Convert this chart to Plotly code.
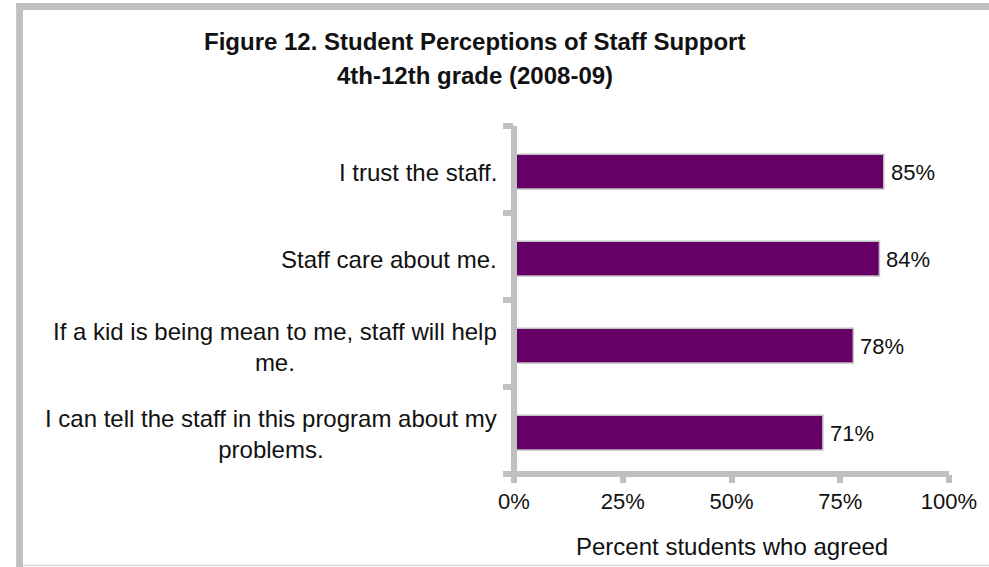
import plotly.graph_objects as go

# Survey items (top to bottom) and share of students who agreed (%)
items = [
    "I trust the staff.",
    "Staff care about me.",
    "If a kid is being mean to me, staff will help<br>me.",
    "I can tell the staff in this program about my<br>problems.",
]
agreed = [85, 84, 78, 71]
x_ticks = [0, 25, 50, 75, 100]
x_tick_text = ["0%", "25%", "50%", "75%", "100%"]

title_line1 = "Figure 12. Student Perceptions of Staff Support"
title_line2 = "4th-12th grade (2008-09)"
x_title = "Percent students who agreed"

# Canvas and plot-area geometry (pixels)
W, H = 989, 567
L, R, T, B = 514, 32, 126, 93
PW, PH = W - L - R, H - T - B

FONT = "Arial, 'Liberation Sans', sans-serif"
AXIS_GREY = "#c0c0c0"
BAR_COLOR = "#660066"
TEXT = "#111111"
AXIS_W = 6


def px_x(px):
    return (px - L) / PW


def px_y(py):
    return (H - B - py) / PH


n = len(items)
pos = list(range(n - 1, -1, -1))  # first item drawn at the top

fig = go.Figure()
fig.add_trace(go.Bar(
    x=agreed,
    y=pos,
    orientation="h",
    width=0.4,
    offset=-0.225,
    marker=dict(color=BAR_COLOR, line=dict(color=AXIS_GREY, width=1.5)),
    hoverinfo="skip",
))

annotations = []
# Item labels, centred lines, right-aligned against the axis
for label, p in zip(items, pos):
    annotations.append(dict(
        x=0, xref="paper", y=p, yref="y",
        xanchor="right", yanchor="middle", xshift=-15, yshift=-3,
        text=label, align="center", showarrow=False,
        font=dict(family=FONT, size=24, color=TEXT),
    ))
# Value labels at the end of each bar
for v, p in zip(agreed, pos):
    annotations.append(dict(
        x=v, xref="x", y=p, yref="y",
        xanchor="left", yanchor="middle", xshift=5, yshift=-3,
        text=f"{v}%", showarrow=False,
        font=dict(family=FONT, size=22, color=TEXT),
    ))
# Two-line chart title
annotations.append(dict(
    x=px_x(474), xref="paper", y=px_y(42), yref="paper",
    xanchor="center", yanchor="middle", text=f"<b>{title_line1}</b>",
    showarrow=False, font=dict(family=FONT, size=24, color=TEXT),
))
annotations.append(dict(
    x=px_x(474), xref="paper", y=px_y(75), yref="paper",
    xanchor="center", yanchor="middle", text=f"<b>{title_line2}</b>",
    showarrow=False, font=dict(family=FONT, size=24, color=TEXT),
))
# Axis title
annotations.append(dict(
    x=50, xref="x", y=px_y(546), yref="paper",
    xanchor="center", yanchor="middle", text=x_title,
    showarrow=False, font=dict(family=FONT, size=24, color=TEXT),
))

shapes = [
    # Frame: thick grey edges on the left and top, thin line at the bottom
    dict(type="rect", xref="paper", yref="paper",
         x0=px_x(7), x1=px_x(14), y0=px_y(3), y1=px_y(H),
         fillcolor=AXIS_GREY, line=dict(width=0), layer="below"),
    dict(type="rect", xref="paper", yref="paper",
         x0=px_x(7), x1=px_x(W + 20), y0=px_y(3), y1=px_y(10),
         fillcolor=AXIS_GREY, line=dict(width=0), layer="below"),
    dict(type="line", xref="paper", yref="paper",
         x0=px_x(14), x1=px_x(W + 20), y0=px_y(565.5), y1=px_y(565.5),
         line=dict(color="#d4d4d4", width=1.5), layer="below"),
    # Axis lines centred on the plot-area edges, above the bars
    dict(type="line", xref="paper", yref="paper",
         x0=0, x1=0, y0=px_y(H - B + AXIS_W / 2), y1=1,
         line=dict(color=AXIS_GREY, width=AXIS_W), layer="above"),
    dict(type="line", xref="paper", yref="paper",
         x0=0, x1=1, y0=0, y1=0,
         line=dict(color=AXIS_GREY, width=AXIS_W), layer="above"),
]

fig.update_layout(
    width=W, height=H,
    margin=dict(l=L, r=R, t=T, b=B, pad=0),
    paper_bgcolor="white", plot_bgcolor="white",
    showlegend=False,
    annotations=annotations,
    shapes=shapes,
    xaxis=dict(
        range=[0, 100], tickvals=x_ticks, ticktext=x_tick_text,
        showgrid=False, zeroline=False, showline=False,
        ticks="outside", ticklen=8, tickwidth=AXIS_W, tickcolor=AXIS_GREY,
        tickfont=dict(family=FONT, size=22, color=TEXT),
        fixedrange=True,
    ),
    yaxis=dict(
        range=[-0.5, n - 0.5],
        tickvals=[i - 0.5 for i in range(n + 1)],
        showticklabels=False,
        showgrid=False, zeroline=False, showline=False,
        ticks="outside", ticklen=10, tickwidth=AXIS_W, tickcolor=AXIS_GREY,
        fixedrange=True,
    ),
)

fig.write_html("out.html")
